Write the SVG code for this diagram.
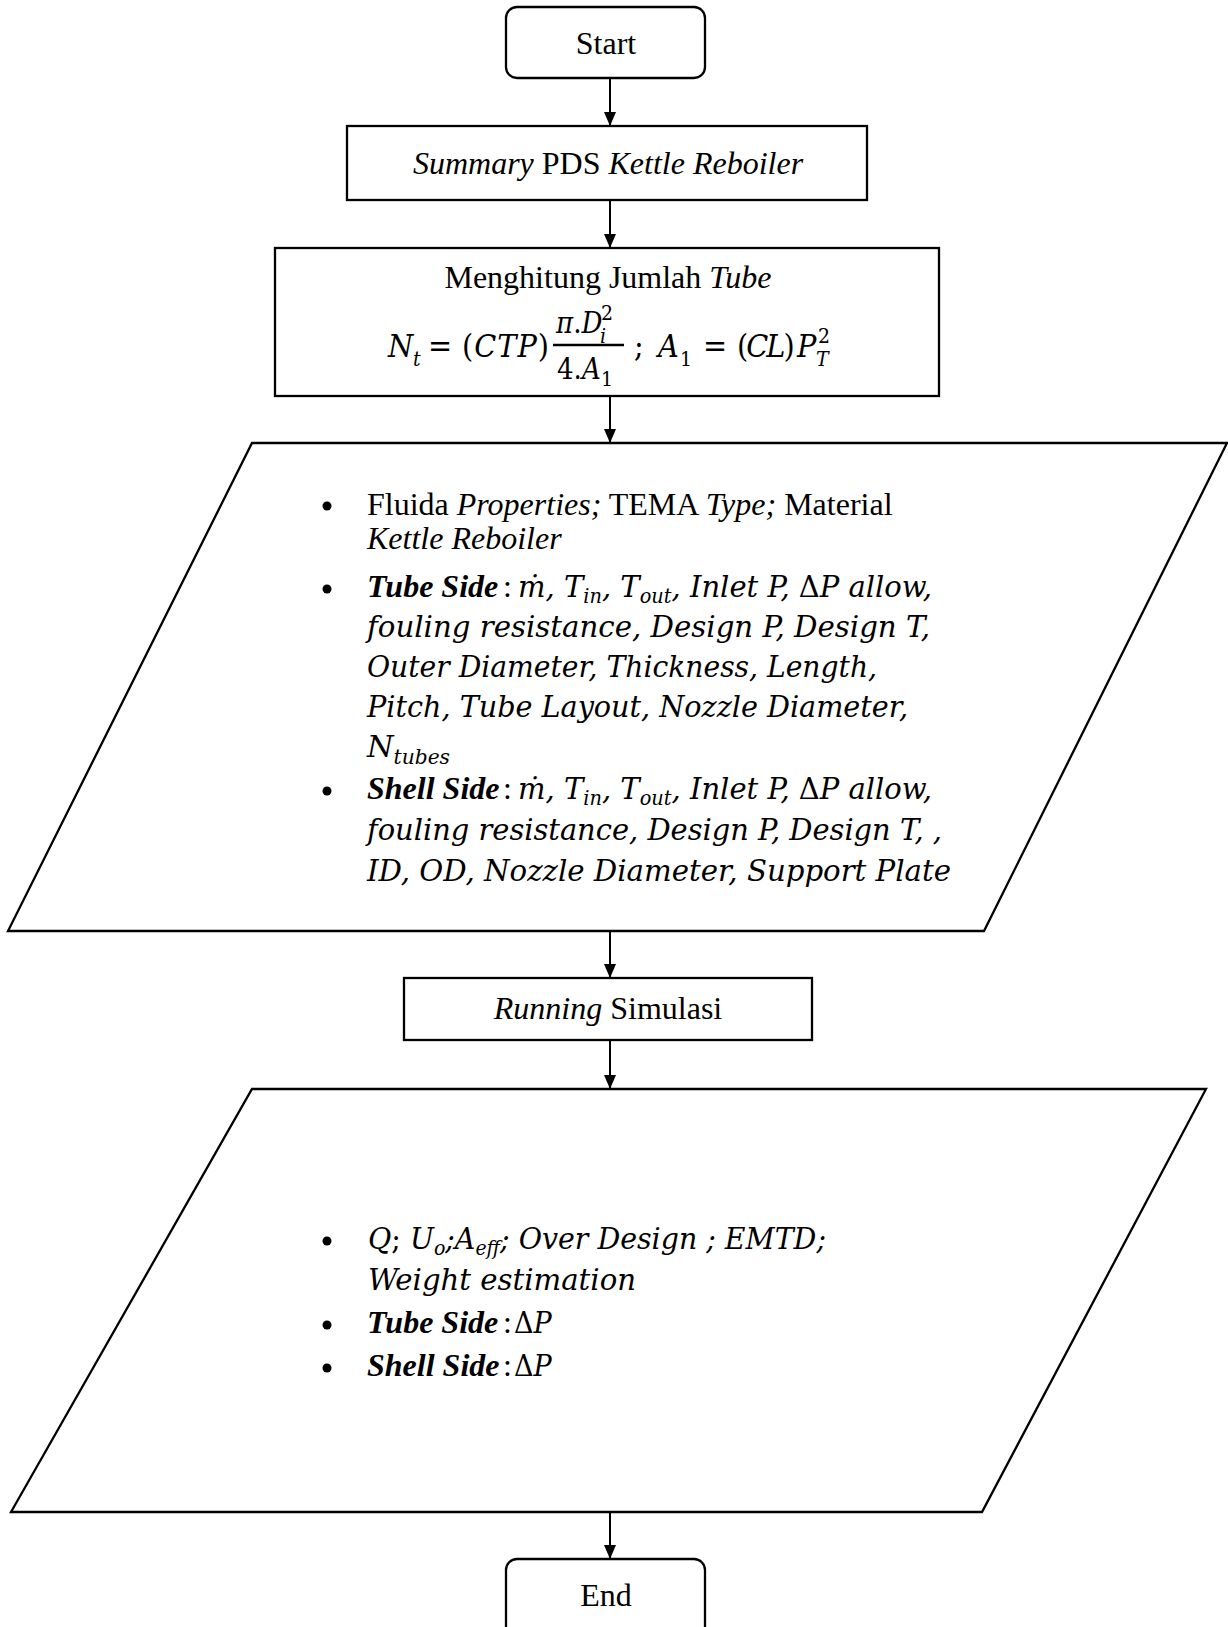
<svg xmlns="http://www.w3.org/2000/svg" width="1228" height="1627" viewBox="0 0 1228 1627">
  <defs>
    <marker id="arrow" markerUnits="userSpaceOnUse" markerWidth="14" markerHeight="12" refX="14" refY="6" orient="auto">
      <path d="M0,0 L14,6 L0,12 Z" fill="#000"/>
    </marker>
    <style>
      .box { fill: #fff; stroke: #000; stroke-width: 2.3; }
      .edge { fill: none; stroke: #000; stroke-width: 2; marker-end: url(#arrow); }
      .t { font-family: "Liberation Serif", "Times New Roman", serif; font-size: 32px; fill: #000; }
      .c { text-anchor: middle; }
      .i { font-style: italic; }
      .bi { font-style: italic; font-weight: bold; }
      .m { font-family: "DejaVu Serif Condensed", "DejaVu Serif", serif; font-style: italic; font-size: 30px; fill: #000; }
      .f { font-family: "DejaVu Serif Condensed", "DejaVu Serif", serif; font-style: italic; font-size: 32px; fill: #000; }
      .up { font-style: normal; }
      .sub { font-size: 20px; }
      .fs { font-size: 21px; }
      .fr { font-size: 29px; }
      .bullet { fill: #000; }
    </style>
  </defs>

  <!-- connectors -->
  <g id="connectors">
    <line class="edge" x1="610" y1="78" x2="610" y2="126"/>
    <line class="edge" x1="610" y1="200" x2="610" y2="248"/>
    <line class="edge" x1="610" y1="396" x2="610" y2="443"/>
    <line class="edge" x1="610" y1="931" x2="610" y2="978"/>
    <line class="edge" x1="610" y1="1040" x2="610" y2="1089"/>
    <line class="edge" x1="610" y1="1512" x2="610" y2="1559"/>
  </g>

  <!-- terminal: start -->
  <g id="start">
    <rect class="box" x="506" y="7" width="199" height="71" rx="11" ry="11"/>
    <text class="t c" x="606" y="54">Start</text>
  </g>

  <!-- process: summary -->
  <g id="summary">
    <rect class="box" x="347" y="126" width="520" height="74"/>
    <text class="t c" x="608" y="174"><tspan class="i">Summary</tspan> PDS <tspan class="i">Kettle Reboiler</tspan></text>
  </g>

  <!-- process: tube count with formula -->
  <g id="tube-count">
    <rect class="box" x="275" y="248" width="664" height="148"/>
    <text class="t c" x="608" y="288">Menghitung Jumlah <tspan class="i">Tube</tspan></text>
    <line x1="553" y1="345" x2="624" y2="345" stroke="#000" stroke-width="2.4"/>
    <text class="f">
      <tspan x="388" y="357">N</tspan>
      <tspan class="fs" x="413" y="366">t</tspan>
      <tspan class="up" x="428" y="357">=</tspan>
      <tspan x="462" y="357" letter-spacing="1"><tspan class="up">(</tspan>CTP<tspan class="up">)</tspan></tspan>
      <tspan class="fr" x="556" y="333">π<tspan class="up">.</tspan>D</tspan>
      <tspan class="fs up" x="601" y="320">2</tspan>
      <tspan class="fs" x="600" y="343">i</tspan>
      <tspan class="fr up" x="557" y="379">4.<tspan class="i">A</tspan></tspan>
      <tspan class="fs up" x="601" y="386">1</tspan>
      <tspan class="up" x="634" y="357">;</tspan>
      <tspan x="658" y="357">A</tspan>
      <tspan class="fs up" x="680" y="366">1</tspan>
      <tspan class="up" x="703" y="357">=</tspan>
      <tspan x="737" y="357" letter-spacing="-2"><tspan class="up">(</tspan>CL<tspan class="up">)</tspan></tspan>
      <tspan x="797" y="357">P</tspan>
      <tspan class="fs up" x="818" y="343">2</tspan>
      <tspan class="fs" x="816" y="366">T</tspan>
    </text>
  </g>

  <!-- input data -->
  <g id="input-data">
    <polygon class="box" points="252,443 1227,443 984,931 8,931"/>
    <circle class="bullet" cx="327" cy="506" r="4.5"/>
    <text class="t" x="367" y="515">Fluida <tspan class="i">Properties;</tspan> TEMA <tspan class="i">Type;</tspan> Material</text>
    <text class="t i" x="367" y="549">Kettle Reboiler</text>

    <circle class="bullet" cx="327" cy="589" r="4.5"/>
    <text class="t bi" x="367" y="597">Tube Side</text>
    <text class="t" x="503" y="597">:</text>
    <text class="m" x="518" y="597" textLength="414" lengthAdjust="spacingAndGlyphs">ṁ, T<tspan class="sub" dy="6">in</tspan><tspan dy="-6">, T</tspan><tspan class="sub" dy="6">out</tspan><tspan dy="-6">, Inlet P, </tspan><tspan class="up">Δ</tspan>P allow,</text>
    <text class="m" x="367" y="637" textLength="563" lengthAdjust="spacingAndGlyphs">fouling resistance, Design P, Design T,</text>
    <text class="m" x="367" y="677" textLength="510" lengthAdjust="spacingAndGlyphs">Outer Diameter, Thickness, Length,</text>
    <text class="m" x="367" y="717" textLength="541" lengthAdjust="spacingAndGlyphs">Pitch, Tube Layout,  Nozzle Diameter,</text>
    <text class="m" x="367" y="757" textLength="83" lengthAdjust="spacingAndGlyphs">N<tspan class="sub" dy="7">tubes</tspan></text>

    <circle class="bullet" cx="327" cy="791" r="4.5"/>
    <text class="t bi" x="367" y="799">Shell Side</text>
    <text class="t" x="503" y="799">:</text>
    <text class="m" x="518" y="799" textLength="414" lengthAdjust="spacingAndGlyphs">ṁ, T<tspan class="sub" dy="6">in</tspan><tspan dy="-6">, T</tspan><tspan class="sub" dy="6">out</tspan><tspan dy="-6">, Inlet P, </tspan><tspan class="up">Δ</tspan>P allow,</text>
    <text class="m" x="367" y="840" textLength="575" lengthAdjust="spacingAndGlyphs">fouling resistance, Design P, Design T, ,</text>
    <text class="m" x="367" y="881" textLength="584" lengthAdjust="spacingAndGlyphs">ID,  OD,  Nozzle Diameter,  Support Plate</text>
  </g>

  <!-- process: simulation -->
  <g id="running">
    <rect class="box" x="404" y="978" width="408" height="62"/>
    <text class="t c" x="608" y="1019"><tspan class="i">Running</tspan> Simulasi</text>
  </g>

  <!-- output data -->
  <g id="output-data">
    <polygon class="box" points="252,1089 1206,1089 982,1512 11,1512"/>
    <circle class="bullet" cx="327" cy="1241" r="4.5"/>
    <text class="m" x="368" y="1249" textLength="458" lengthAdjust="spacingAndGlyphs">Q<tspan class="up">;</tspan> U<tspan class="sub" dy="6">o</tspan><tspan dy="-6">;A</tspan><tspan class="sub" dy="6">eff</tspan><tspan dy="-6">; Over Design ; EMTD;</tspan></text>
    <text class="m" x="368" y="1290" textLength="268" lengthAdjust="spacingAndGlyphs">Weight estimation</text>

    <circle class="bullet" cx="327" cy="1325" r="4.5"/>
    <text class="t bi" x="367" y="1333">Tube Side</text>
    <text class="t" x="503" y="1333">:</text>
    <text class="m" x="514" y="1333"><tspan class="up">Δ</tspan>P</text>

    <circle class="bullet" cx="327" cy="1368" r="4.5"/>
    <text class="t bi" x="367" y="1376">Shell Side</text>
    <text class="t" x="503" y="1376">:</text>
    <text class="m" x="514" y="1376"><tspan class="up">Δ</tspan>P</text>
  </g>

  <!-- terminal: end -->
  <g id="end">
    <rect class="box" x="506" y="1559" width="199" height="90" rx="11" ry="11"/>
    <text class="t c" x="606" y="1606">End</text>
  </g>
</svg>
